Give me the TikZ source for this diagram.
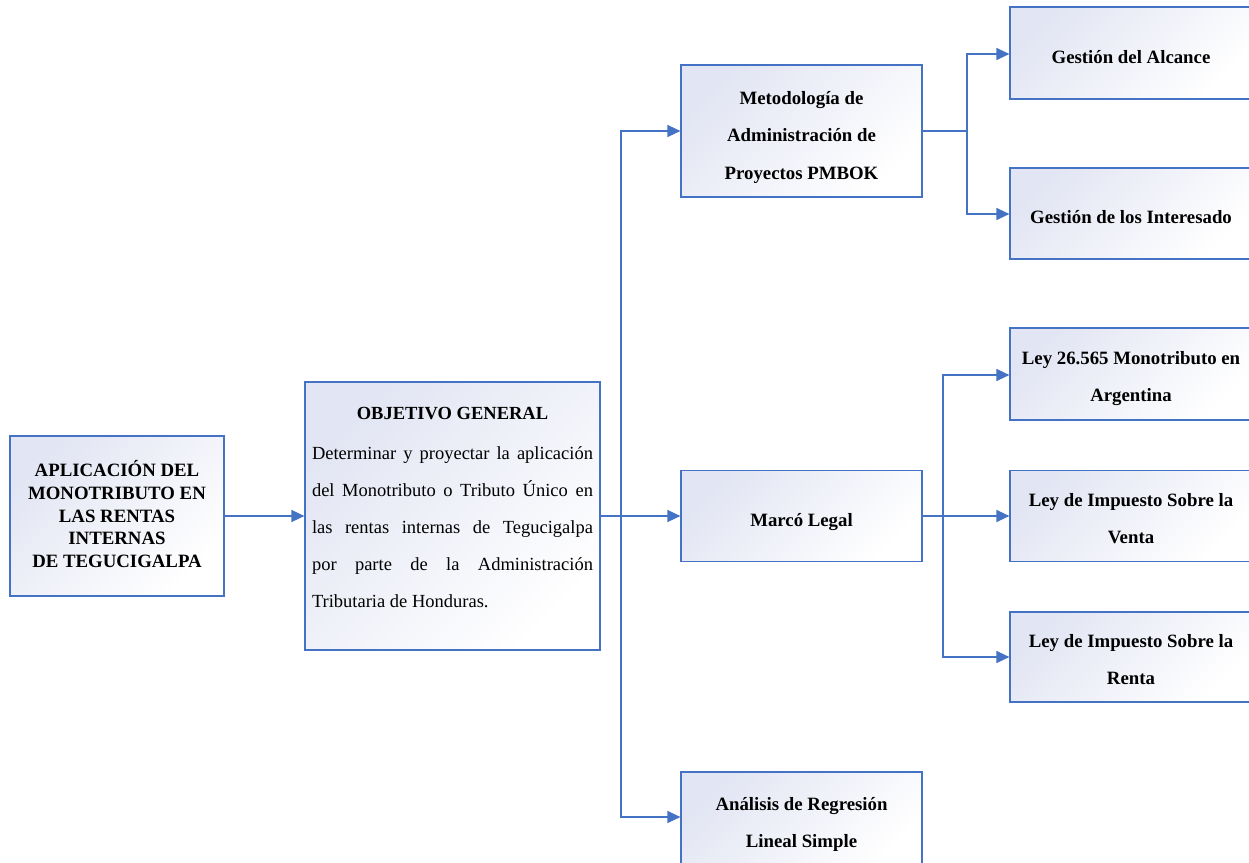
\documentclass[tikz,border=0pt]{standalone}
\usepackage{fontspec}
\setmainfont{Liberation Serif}
\usetikzlibrary{arrows.meta}
\definecolor{lineblue}{HTML}{4472C4}
\definecolor{shadec}{RGB}{226,229,243}
\tikzset{
  box/.style={draw=lineblue, line width=1.2pt, rectangle, inner sep=4pt,
    top color=shadec, bottom color=white, shading angle=45, align=center},
  conn/.style={draw=lineblue, line width=1.4pt},
  arr/.style={conn, -{Triangle[length=13pt,width=12pt]}},
  bfbox/.style={font=\fontsize{18.8}{37.5}\selectfont\bfseries},
  oneline/.style={text height=24pt, text depth=4pt},
  twolines/.style={text height=59pt, text depth=4pt},
  threelines/.style={text height=100pt, text depth=4pt}
}
\begin{document}
\begin{tikzpicture}[x=1pt,y=-1pt]
\useasboundingbox (0,0) rectangle (1249,862);
\clip (0,0) rectangle (1249,862);
% main boxes
\node[box, minimum width=214pt, minimum height=160pt, text depth=4pt, font=\fontsize{18.8}{22.6}\selectfont\bfseries]
  (ap) at (117,516) {APLICACIÓN DEL\\MONOTRIBUTO EN\\LAS RENTAS\\INTERNAS\\DE TEGUCIGALPA};
\node[box, minimum width=295pt, minimum height=268pt, inner sep=0pt, text width=281pt, align=justify,
  text height=14pt, text depth=208pt, font=\fontsize{18.5}{37}\selectfont]
  (obj) at (452.5,516) {\hyphenpenalty=10000{\centering\bfseries OBJETIVO GENERAL\par}\vspace{3pt}
  Determinar y proyectar la aplicación\linebreak del Monotributo o Tributo Único en\linebreak las rentas internas de Tegucigalpa\linebreak por parte de la Administración\linebreak Tributaria de Honduras.};
\node[box, bfbox, threelines, minimum width=241pt, minimum height=132pt] (pm) at (801.5,131)
  {Metodología de\\Administración de\\Proyectos PMBOK};
\node[box, bfbox, oneline, minimum width=241pt, minimum height=91pt] (ml) at (801.5,516) {Marcó Legal};
\node[box, bfbox, twolines, minimum width=241pt, minimum height=96pt] (an) at (801.5,820)
  {Análisis de Regresión\\Lineal Simple};
% right boxes
\node[box, bfbox, oneline, minimum width=242pt, minimum height=92pt] (ga) at (1131,53) {Gestión del Alcance};
\node[box, bfbox, oneline, minimum width=242pt, minimum height=91pt] (gi) at (1131,213.5) {Gestión de los Interesado};
\node[box, bfbox, twolines, minimum width=242pt, minimum height=92pt] (l1) at (1131,374) {Ley 26.565 Monotributo en\\Argentina};
\node[box, bfbox, twolines, minimum width=242pt, minimum height=91pt] (l2) at (1131,516) {Ley de Impuesto Sobre la\\Venta};
\node[box, bfbox, twolines, minimum width=242pt, minimum height=90pt] (l3) at (1131,657) {Ley de Impuesto Sobre la\\Renta};
% junctions
\coordinate (j1) at (621,516);
\coordinate (j2) at (967,131);
\coordinate (j3) at (943,516);
% connectors
\draw[arr] (ap.east) -- (obj.west);
\draw[conn] (obj.east) -- (j1);
\draw[arr] (j1) |- (pm.west);
\draw[arr] (j1) -- (ml.west);
\draw[arr] (j1) |- ([yshift=3pt]an.west);
\draw[conn] (pm.east) -- (j2);
\draw[arr] (j2) |- ([yshift=-1pt]ga.west);
\draw[arr] (j2) |- ([yshift=-0.5pt]gi.west);
\draw[conn] (ml.east) -- (j3);
\draw[arr] (j3) |- ([yshift=-1pt]l1.west);
\draw[arr] (j3) -- (l2.west);
\draw[arr] (j3) |- (l3.west);
\end{tikzpicture}
\end{document}
